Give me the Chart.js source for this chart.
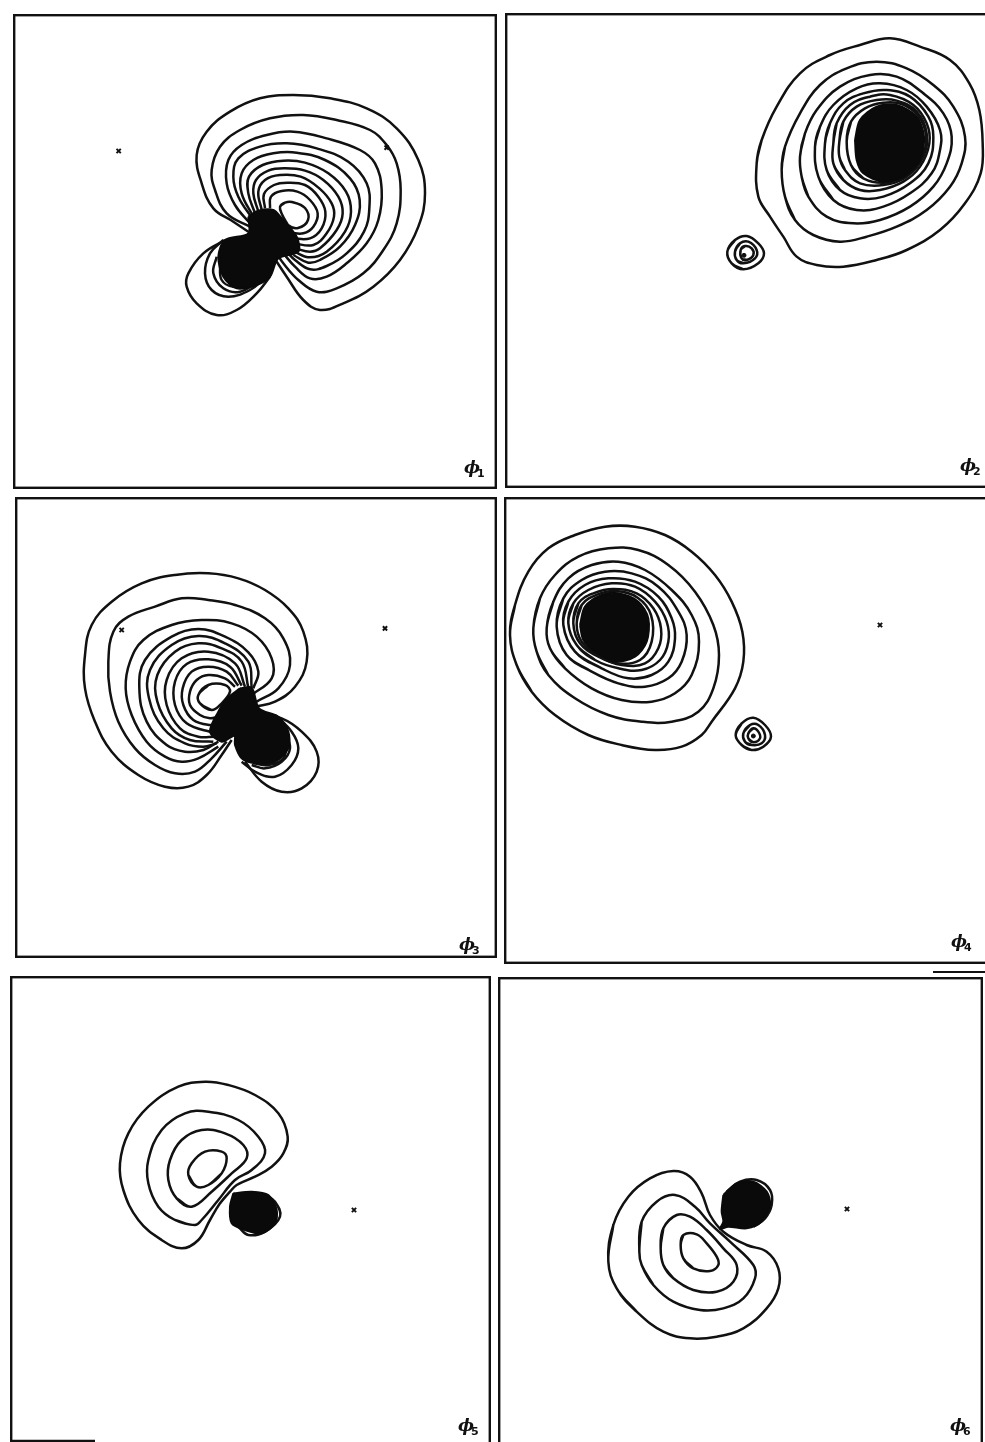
<!DOCTYPE html>
<html>
<head>
<meta charset="utf-8">
<title>Orbital contour maps</title>
<script src="https://cdn.jsdelivr.net/npm/chart.js@4/dist/chart.umd.min.js"></script>
<style>
html,body{margin:0;background:#fff;overflow:hidden;width:985px;height:1442px;}
canvas{position:absolute;left:0;top:0;}
.rule{position:absolute;left:933px;top:971px;width:52px;height:2px;background:#111;}
</style>
</head>
<body>
<div class="rule"></div>
<script>
// contour lines, one unit = 1/3 px, counted from each panel's own read origin
// phi 1
const phi1Lines = [
 [[235,455],[190,425],[130,385],[95,310],[80,225],[110,155],[180,95],[270,55],[370,45],[480,55],[590,85],[680,145],[745,240],[765,340],[745,440],[690,540],[610,620],[520,670],[450,690],[400,660],[350,590],[310,530]],
 [[240,440],[170,400],[135,330],[125,270],[150,200],[210,150],[300,115],[400,105],[500,120],[600,150],[650,195],[680,250],[692,330],[680,430],[640,510],[580,580],[500,625],[440,635],[385,600],[340,550],[320,520]],
 [[240,430],[195,375],[170,310],[175,240],[215,195],[290,165],[370,155],[470,175],[570,210],[615,250],[635,330],[625,420],[590,490],[530,550],[470,590],[420,595],[375,560],[340,520]],
 [[250,420],[205,350],[190,290],[205,235],[270,200],[350,190],[440,205],[535,245],[590,310],[598,385],[582,455],[530,520],[470,558],[420,568],[375,540],[350,515]],
 [[250,410],[215,340],[215,280],[250,240],[310,220],[380,218],[465,240],[540,295],[569,360],[555,435],[510,500],[450,540],[415,548],[370,525]],
 [[255,400],[235,340],[237,290],[278,255],[340,242],[405,248],[475,280],[528,335],[543,395],[525,455],[470,515],[420,532],[372,515]],
 [[265,395],[250,340],[258,300],[295,272],[345,265],[405,272],[460,300],[505,350],[518,400],[500,450],[450,505],[420,515],[375,505]],
 [[275,390],[265,335],[285,300],[330,285],[392,290],[448,325],[485,370],[492,410],[470,460],[430,495],[370,490]],
 [[285,385],[282,342],[312,315],[352,308],[405,315],[445,350],[466,395],[455,445],[420,475],[365,475]],
 [[300,385],[303,350],[335,333],[382,335],[420,360],[443,400],[430,440],[400,460],[360,458]],
 [[165,480],[100,520],[55,580],[50,620],[80,670],[140,705],[200,690],[260,640],[300,590]],
 [[160,480],[120,520],[105,580],[125,630],[175,650],[240,630],[290,590]],
 [[140,530],[130,580],[160,625],[210,635],[270,600]],
 [[150,550],[155,600],[190,620],[250,610]]
];
const phi1Loops = [
 [[330,381],[345,368],[366,366],[405,384],[414,420],[384,444],[354,435],[337,405]]
];
const phi1Solid = [
 [[235,410],[265,392],[310,390],[335,415],[380,470],[385,515],[325,535],[300,590],[260,615],[200,625],[160,590],[145,530],[165,480],[235,460]]
];
const phi1Marks = [[650,203],[-154,213]];

// phi 2
const phi2Loops = [
 [[110,400],[125,330],[170,230],[240,130],[330,75],[420,45],[510,25],[600,50],[690,90],[748,160],[778,240],[788,340],[782,430],[735,520],[660,600],[560,660],[470,690],[370,710],[290,705],[230,680],[190,620],[150,560],[115,500]],
 [[185,420],[195,350],[240,250],[300,165],[380,115],[470,95],[560,115],[640,165],[700,230],[735,320],[725,400],[690,470],[620,540],[530,590],[440,620],[360,635],[280,615],[225,570],[195,500]],
 [[240,380],[255,310],[290,240],[360,170],[450,135],[530,140],[610,190],[670,250],[695,320],[680,400],[640,470],[570,530],[480,570],[400,580],[320,560],[265,500],[245,440]],
 [[285,350],[300,290],[340,225],[410,175],[480,160],[560,180],[620,230],[660,300],[660,360],[635,430],[570,490],[490,530],[410,540],[340,510],[295,440]],
 [[315,340],[330,280],[370,220],[430,190],[500,180],[570,200],[625,260],[640,320],[625,400],[570,460],[490,500],[420,505],[360,480],[320,420]],
 [[340,340],[350,280],[390,225],[450,200],[510,195],[580,225],[620,280],[628,340],[600,410],[550,455],[480,480],[420,480],[370,450],[340,400]],
 [[358,335],[370,275],[410,230],[470,210],[530,212],[590,245],[620,310],[610,380],[560,440],[490,465],[420,460],[375,420],[358,380]],
 [[380,335],[393,275],[435,235],[490,218],[545,222],[595,258],[618,318],[605,385],[560,435],[495,458],[430,445],[393,405]],
 [[22,665],[45,630],[80,618],[115,640],[132,670],[115,700],[70,718],[35,700]],
 [[45,665],[60,640],[85,635],[110,660],[105,685],[70,700],[50,690]],
 [[62,660],[75,648],[95,655],[100,675],[80,690],[65,685]]
];
const phi2Solid = [
 [[405,330],[420,270],[470,230],[530,225],[590,260],[612,320],[600,390],[550,440],[490,455],[430,430],[410,390]]
];
const phi2Dots = [[72,676]];

// phi 3
const phi3Lines = [
 [[540,425],[600,410],[660,365],[695,290],[685,200],[640,130],[570,75],[490,40],[400,25],[300,30],[200,55],[110,110],[50,180],[30,270],[30,370],[60,470],[110,560],[190,630],[270,665],[340,665],[395,630],[440,570],[470,525]],
 [[545,410],[610,370],[645,300],[625,220],[570,160],[480,120],[400,105],[320,100],[240,125],[160,155],[115,200],[100,290],[105,380],[130,470],[180,550],[240,600],[300,625],[360,620],[410,580],[455,530]],
 [[530,390],[590,340],[590,280],[545,215],[470,175],[380,165],[290,180],[205,225],[165,290],[152,370],[170,450],[215,530],[270,575],[320,590],[370,580],[430,545]],
 [[535,370],[550,320],[520,262],[450,215],[370,192],[290,215],[210,285],[193,370],[215,470],[275,540],[330,560],[385,555],[430,530]],
 [[530,368],[520,290],[450,235],[370,213],[290,240],[225,315],[222,400],[265,490],[330,535],[385,545],[425,535]],
 [[520,368],[500,290],[440,250],[370,235],[300,260],[247,330],[247,410],[290,490],[345,525],[415,530]],
 [[510,365],[480,295],[400,260],[320,280],[275,345],[275,420],[315,490],[370,515],[420,515]],
 [[500,362],[465,305],[400,283],[335,297],[300,350],[300,420],[335,475],[405,500],[425,498]],
 [[490,362],[455,320],[400,305],[350,320],[323,370],[325,420],[355,465],[405,480],[432,475]],
 [[480,365],[450,340],[400,330],[365,345],[345,380],[345,420],[375,450],[405,460],[430,455]],
 [[545,445],[620,460],[680,500],[725,560],[725,620],[680,670],[620,680],[560,650],[510,590]],
 [[600,450],[650,500],[670,550],[650,600],[600,635],[540,620],[500,590]],
 [[630,500],[645,550],[620,590],[570,610],[530,600]],
 [[635,530],[625,580],[580,600],[535,595]]
];
const phi3Loops = [
 [[370,390],[400,360],[450,360],[465,380],[435,420],[410,435],[375,415]]
];
const phi3Solid = [
 [[495,370],[530,368],[552,430],[610,455],[640,500],[640,550],[600,590],[540,595],[500,580],[480,540],[478,512],[440,530],[405,500],[430,440],[455,402]]
];
const phi3Marks = [[140,195],[930,190]];

// phi 4
const phi4Loops = [
 [[15,360],[30,270],[70,170],[130,100],[210,60],[300,35],[390,35],[480,60],[560,110],[630,180],[680,260],[712,350],[715,440],[690,520],[620,620],[590,660],[530,695],[450,705],[350,690],[250,660],[150,600],[80,530],[35,450]],
 [[85,340],[105,250],[150,180],[220,125],[310,100],[400,105],[490,150],[570,230],[625,330],[642,420],[625,520],[580,590],[500,620],[410,620],[310,600],[210,550],[130,480],[95,410]],
 [[125,340],[145,260],[190,190],[260,150],[340,140],[420,165],[500,225],[560,300],[582,380],[560,480],[510,535],[440,560],[350,555],[260,520],[180,460],[135,400]],
 [[155,335],[175,250],[230,195],[300,170],[380,175],[460,215],[520,290],[545,360],[530,440],[490,490],[420,515],[340,505],[260,470],[185,420]],
 [[175,330],[190,260],[240,210],[310,190],[390,200],[460,245],[500,310],[510,370],[490,440],[440,480],[370,490],[290,460],[210,410]],
 [[190,325],[205,265],[250,225],[320,205],[390,215],[450,260],[485,320],[490,380],[465,435],[410,465],[340,460],[270,435],[215,390]],
 [[205,325],[220,265],[265,235],[325,222],[395,235],[445,280],[468,340],[460,400],[420,445],[350,450],[280,425],[225,385]],
 [[215,328],[230,270],[278,238],[332,228],[398,248],[438,300],[440,380],[405,435],[335,445],[275,418],[230,380]],
 [[692,660],[710,625],[745,608],[780,630],[798,665],[775,695],[740,705],[710,690]],
 [[715,655],[735,630],[760,630],[780,660],[770,685],[740,690],[720,680]],
 [[730,655],[745,640],[760,650],[765,670],[745,682],[730,670]]
];
const phi4Solid = [
 [[225,330],[240,275],[290,240],[340,235],[400,260],[430,310],[425,380],[390,425],[330,440],[270,410],[235,375]]
];
const phi4Marks = [[1125,330]];
const phi4Dots = [[745,663]];

// phi 5
const phi5Lines = [
 [[400,470],[430,495],[480,485],[525,440],[510,395],[480,375]],
 [[-285,1113],[-30,1113]]
];
const phi5Loops = [
 [[395,345],[450,320],[500,290],[535,250],[548,200],[520,130],[450,75],[370,45],[300,35],[220,50],[130,110],[70,190],[45,280],[55,360],[100,450],[170,510],[230,535],[280,510],[315,450],[345,400],[375,365]],
 [[270,465],[210,450],[160,410],[130,340],[130,270],[170,180],[240,130],[310,125],[400,150],[460,200],[480,250],[440,300],[390,330],[340,390],[290,450]],
 [[260,410],[215,385],[190,330],[195,270],[230,210],[290,180],[360,190],[415,225],[425,265],[380,310],[320,365]],
 [[275,350],[250,315],[260,280],[300,245],[350,245],[365,265],[350,310],[310,345]]
];
const phi5Solid = [
 [[385,370],[440,365],[490,375],[515,420],[510,460],[470,490],[420,480],[380,460],[375,410]]
];
const phi5Marks = [[747,420]];

// phi 6
const phi6Lines = [
 [[380,80],[420,50],[470,45],[510,75],[515,120],[495,160],[460,185]]
];
const phi6Loops = [
 [[25,290],[40,180],[85,95],[150,40],[220,18],[270,35],[305,85],[330,150],[370,200],[440,240],[500,260],[535,310],[535,370],[500,430],[430,490],[350,515],[270,520],[190,500],[110,440],[50,370]],
 [[118,260],[125,170],[170,110],[225,90],[285,125],[330,175],[390,230],[460,300],[465,340],[430,400],[370,430],[300,435],[220,410],[160,360],[125,300]],
 [[182,250],[190,190],[230,150],[270,155],[320,195],[370,250],[410,300],[400,350],[350,380],[280,375],[220,340],[190,300]],
 [[242,240],[250,210],[290,208],[320,235],[350,275],[355,300],[330,318],[280,310],[250,280]]
];
const phi6Solid = [
 [[370,90],[410,55],[460,50],[500,80],[510,120],[485,170],[440,190],[385,185],[360,192],[370,170],[365,140]]
];
const phi6Marks = [[741,132]];

// left, top, right, bottom of each frame on the page, read origin, label spot on the page
const panels = [
 {name:'1',box:[13,14,497,489],origin:[170,80],label:[464,473],lines:phi1Lines,loops:phi1Loops,solid:phi1Solid,marks:phi1Marks,dots:[]},
 {name:'2',box:[505,13,995,488],origin:[720,30],label:[960,471],lines:[],loops:phi2Loops,solid:phi2Solid,marks:[],dots:phi2Dots},
 {name:'3',box:[15,497,497,958],origin:[75,565],label:[459,950],lines:phi3Lines,loops:phi3Loops,solid:phi3Solid,marks:phi3Marks,dots:[]},
 {name:'4',box:[504,497,995,964],origin:[505,515],label:[951,947],lines:[],loops:phi4Loops,solid:phi4Solid,marks:phi4Marks,dots:phi4Dots},
 {name:'5',box:[10,976,491,1450],origin:[105,1070],label:[458,1431],lines:phi5Lines,loops:phi5Loops,solid:phi5Solid,marks:phi5Marks,dots:[]},
 {name:'6',box:[498,977,983,1450],origin:[600,1165],label:[950,1431],lines:phi6Lines,loops:phi6Loops,solid:phi6Solid,marks:phi6Marks,dots:[]}
];

function xy(p){ return {x:p[0],y:p[1]}; }
function closed(p){ return p.concat([p[0]]).map(xy); }
// run over the joint of a closed line so the curve has no corner where it starts
function looped(p){ return p.slice(-2).concat(p,p.slice(0,2)).map(xy); }

// frame round the plot and the phi label in the corner
const framePlugin = {
  id:'frame',
  afterDraw(chart){
    const c = chart.ctx, a = chart.chartArea, o = chart.options.plugins.frame;
    c.save();
    c.strokeStyle = '#111';
    c.lineWidth = 2.4;
    c.strokeRect(a.left+1.2,a.top+1.2,a.right-a.left-2.4,a.bottom-a.top-2.4);
    c.fillStyle = '#111';
    c.textBaseline = 'alphabetic';
    c.font = 'bold italic 17px "DejaVu Serif"';
    c.fillText('\u03d5',o.lx,o.ly);
    c.font = 'bold 11px "DejaVu Sans"';
    c.fillText(o.name,o.lx+13,o.ly+4);
    c.restore();
  }
};

panels.forEach(function(p){
  const w = p.box[2]-p.box[0], h = p.box[3]-p.box[1];
  const holder = document.createElement('div');
  holder.style.cssText = 'position:absolute;left:'+p.box[0]+'px;top:'+p.box[1]+'px;width:'+w+'px;height:'+h+'px;';
  const cv = document.createElement('canvas');
  cv.style.width = w+'px';
  cv.style.height = h+'px';
  holder.appendChild(cv);
  document.body.appendChild(holder);

  const datasets = [];
  p.solid.forEach(function(s){
    datasets.push({data:closed(s),showLine:true,pointRadius:0,borderColor:'#0a0a0a',borderWidth:2,backgroundColor:'#0a0a0a',fill:'shape',tension:0.3});
  });
  p.lines.forEach(function(l){
    datasets.push({data:l.map(xy),showLine:true,pointRadius:0,borderColor:'#111',borderWidth:2.5,fill:false,tension:0.4});
  });
  p.loops.forEach(function(l){
    datasets.push({data:looped(l),showLine:true,pointRadius:0,borderColor:'#111',borderWidth:2.5,fill:false,tension:0.4});
  });
  if(p.marks.length){
    datasets.push({data:p.marks.map(xy),showLine:false,pointStyle:'crossRot',pointRadius:3,pointBorderWidth:2,pointBorderColor:'#111'});
  }
  if(p.dots.length){
    datasets.push({data:p.dots.map(xy),showLine:false,pointStyle:'circle',pointRadius:2,pointBackgroundColor:'#111',pointBorderColor:'#111'});
  }

  new Chart(cv,{
    type:'scatter',
    data:{datasets:datasets},
    plugins:[framePlugin],
    options:{
      responsive:false,
      animation:false,
      events:[],
      layout:{padding:0,autoPadding:false},
      plugins:{
        legend:{display:false},
        tooltip:{enabled:false},
        frame:{name:p.name,lx:p.label[0]-p.box[0],ly:p.label[1]-p.box[1]}
      },
      scales:{
        x:{type:'linear',display:false,min:(p.box[0]-p.origin[0])*3,max:(p.box[2]-p.origin[0])*3},
        y:{type:'linear',display:false,reverse:true,min:(p.box[1]-p.origin[1])*3,max:(p.box[3]-p.origin[1])*3}
      }
    }
  });
});
</script>
</body>
</html>
